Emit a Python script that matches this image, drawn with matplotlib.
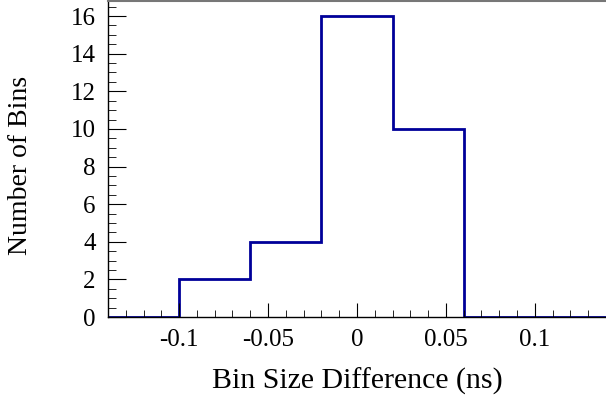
import matplotlib
matplotlib.use('Agg')
import matplotlib.pyplot as plt
from matplotlib.ticker import MultipleLocator

# histogram of bin size differences
edges = [-0.14, -0.10, -0.06, -0.02, 0.02, 0.06, 0.10, 0.14]
counts = [0, 2, 4, 16, 10, 0, 0]
x_ticks = [-0.1, -0.05, 0, 0.05, 0.1]
x_labels = ['-0.1', '-0.05', '0', '0.05', '0.1']

plt.rcParams['font.family'] = ['Liberation Serif', 'DejaVu Serif']

fig = plt.figure(figsize=(6.06, 4.05), dpi=100)
ax = fig.add_axes([108/606, 88/405, 1 - 108/606, 316/405])

ax.stairs(counts, edges, color='#000099', linewidth=2.0, baseline=None)

ax.set_xlim(-0.14, 0.14)
ax.set_ylim(0, 16.8)

ax.set_xticks(x_ticks)
ax.set_xticklabels(x_labels)
ax.xaxis.set_minor_locator(MultipleLocator(0.01))
ax.yaxis.set_major_locator(MultipleLocator(2))
ax.yaxis.set_minor_locator(MultipleLocator(0.5))

ax.tick_params(which='both', direction='in', top=False, right=False, labelsize=18)
ax.tick_params(axis='x', which='major', length=10, pad=9)
ax.tick_params(axis='x', which='minor', length=5)
ax.tick_params(axis='y', which='major', length=13, pad=9)
ax.tick_params(axis='y', which='minor', length=6)

for s in ['left', 'bottom']:
    ax.spines[s].set_linewidth(1.0)
ax.spines['top'].set_color('#777777')
ax.spines['top'].set_linewidth(1.5)
ax.spines['right'].set_visible(False)

ax.set_xlabel('Bin Size Difference (ns)', fontsize=21.5, labelpad=12)
ax.set_ylabel('Number of Bins', fontsize=20)
ax.yaxis.set_label_coords(-0.15, 0.48)

fig.savefig('out.png', dpi=100)
